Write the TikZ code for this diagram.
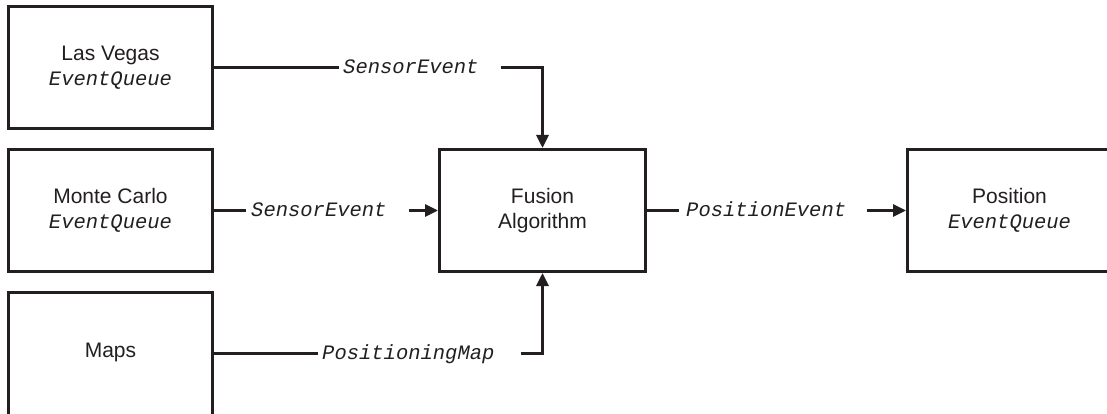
\documentclass[tikz,border=0pt]{standalone}
\usepackage{fontspec}
\setmainfont{Liberation Sans}
\newfontfamily\monoitfont{Liberation Mono Italic}
\usetikzlibrary{arrows.meta}
\definecolor{ink}{RGB}{35,31,32}
\newcommand{\qtype}[1]{{\monoitfont\fontsize{20.5}{25}\selectfont #1}}
% a type name set in a connector gap: #1 space before, #2 the name, #3 space after
\newcommand{\gaplabel}[3]{\kern#1\qtype{#2}\kern#3\relax}
\tikzset{
  block/.style={draw=ink, line width=3pt, minimum width=204pt, minimum height=122pt,
    inner sep=0pt, align=center, text=ink, font=\fontsize{21}{25}\selectfont},
  flowlabel/.style={anchor=west, inner sep=0pt, text height=12pt, text depth=0pt, text=ink},
  wire/.style={draw=ink, line width=3pt},
  feed/.style={wire, -{Triangle[length=13pt,width=12pt]}}
}
\begin{document}
\begin{tikzpicture}[x=1pt, y=-1pt]
  \useasboundingbox[fill=white] (0,0) rectangle (1107,414);

  % sources, fusion stage and sink (the maps box runs past the lower edge)
  \node[block] (lv)   at (110.5,67.5)  {Las Vegas\\\qtype{EventQueue}};
  \node[block] (mc)   at (110.5,210.5) {Monte Carlo\\\qtype{EventQueue}};
  \node[block, minimum height=128pt] (maps) at (110.5,356.5)
    {\raisebox{4pt}[\height][\depth]{Maps}};
  \node[block, minimum width=206pt] (fus) at (542.5,210.5) {Fusion\\Algorithm};
  \node[block] (pos)  at (1009.5,210.5) {Position\\\qtype{EventQueue}};

  % type labels sitting in the gaps of the connectors
  \node[flowlabel] (l1) at (339,67.5)  {\gaplabel{4pt}{SensorEvent}{22pt}};
  \node[flowlabel] (l2) at (246,210.5) {\gaplabel{5pt}{SensorEvent}{22pt}};
  \node[flowlabel] (l3) at (318,353.5) {\gaplabel{4pt}{PositioningMap}{26pt}};
  \node[flowlabel] (l4) at (679,210.5) {\gaplabel{7pt}{PositionEvent}{21pt}};

  % connectors
  \draw[wire] (lv.east) -- (l1.west);
  \draw[feed] (l1.east) -| (fus.north);
  \draw[wire] (mc.east) -- (l2.west);
  \draw[feed] (l2.east) -- (fus.west);
  \draw[wire] (maps.east |- l3.west) -- (l3.west);
  \draw[feed] (l3.east) -| (fus.south);
  \draw[wire] (fus.east) -- (l4.west);
  \draw[feed] (l4.east) -- (pos.west);
\end{tikzpicture}
\end{document}
